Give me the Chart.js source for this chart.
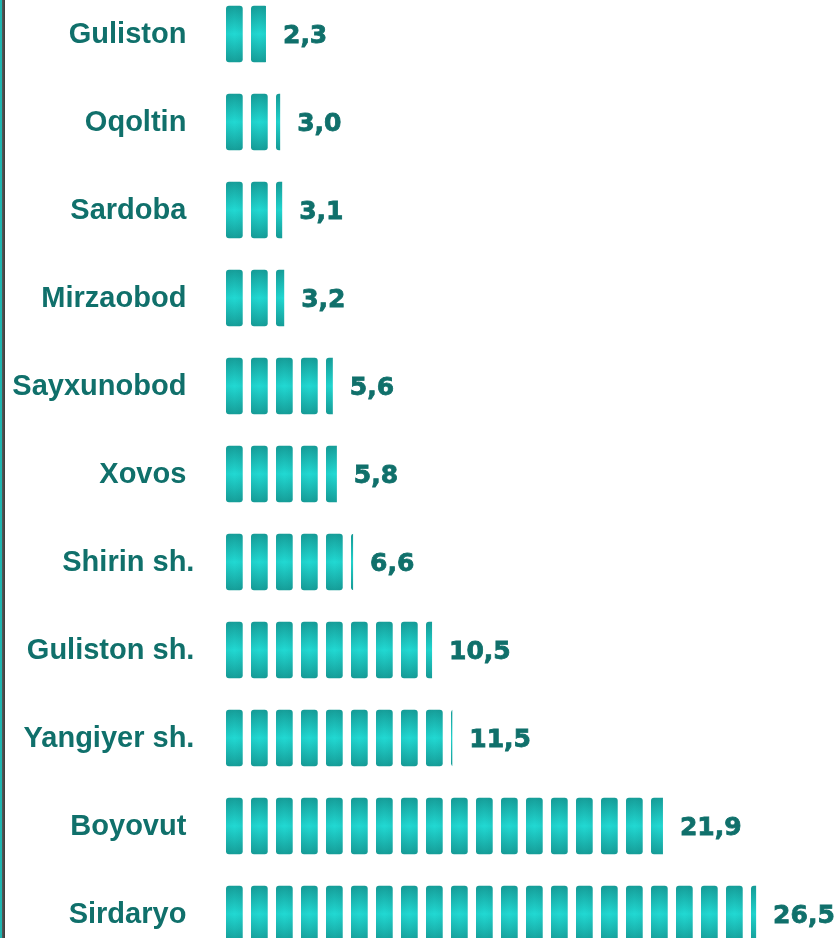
<!DOCTYPE html>
<html>
<head>
<meta charset="utf-8">
<script src="https://cdn.jsdelivr.net/npm/chart.js@4.4.1/dist/chart.umd.min.js"></script>
<style>
    html, body { margin: 0; padding: 0; background: #fff; overflow: hidden; }
    body { width: 837px; height: 938px; position: relative; }
    #wrap { position: absolute; left: 0; top: -10px; width: 837px; height: 968px; }
    #edge { position: absolute; left: 0; top: 0; width: 5px; height: 938px;
        background: linear-gradient(to right, #1fb5b0 0, #1fb5b0 2px, #5a5a5a 2px, #3a3a3a 5px); }
</style>
</head>
<body>
<div id="wrap"><canvas id="chart"></canvas></div>
<div id="edge"></div>
<script>
// categories (trailing spaces kept as in the source labels)
const districts = ['Guliston ', 'Oqoltin ', 'Sardoba ', 'Mirzaobod ', 'Sayxunobod ', 'Xovos ',
    'Shirin sh.', 'Guliston sh.', 'Yangiyer sh.', 'Boyovut ', 'Sirdaryo '];
const shares = [2.3, 3.0, 3.1, 3.2, 5.6, 5.8, 6.6, 10.5, 11.5, 21.9, 26.5];

const textColor = '#10706b';

// pictogram bars: each bar is filled with rounded "tablets" clipped to the bar length
const tabletPlugin = {
    id: 'tablets',
    afterDatasetsDraw(chart) {
        const ctx = chart.ctx;
        const meta = chart.getDatasetMeta(0);
        meta.data.forEach((bar, i) => {
            const left = bar.base, right = bar.x;
            const top = bar.y - bar.height / 2, h = bar.height;
            const grad = ctx.createLinearGradient(0, top, 0, top + h);
            grad.addColorStop(0, '#169e99');
            grad.addColorStop(0.5, '#21d9d3');
            grad.addColorStop(1, '#169e99');
            ctx.save();
            ctx.beginPath();
            ctx.rect(left, top - 1, right - left, h + 2);
            ctx.clip();
            for (let sx = left + 6.6; sx < right; sx += 25) {
                ctx.beginPath();
                ctx.roundRect(sx, top, 16.7, h, 3);
                ctx.fillStyle = grad;
                ctx.fill();
                // faint shading towards the side edges of each tablet
                const side = ctx.createLinearGradient(sx, 0, sx + 16.7, 0);
                side.addColorStop(0, 'rgba(10,90,88,0.08)');
                side.addColorStop(0.5, 'rgba(10,90,88,0)');
                side.addColorStop(1, 'rgba(10,90,88,0.08)');
                ctx.fillStyle = side;
                ctx.fill();
            }
            ctx.restore();

            ctx.save();
            ctx.font = 'bold 25px "DejaVu Sans"';
            ctx.fillStyle = textColor;
            ctx.strokeStyle = textColor;
            ctx.lineWidth = 0.8;
            ctx.textAlign = 'left';
            ctx.textBaseline = 'middle';
            const txt = shares[i].toFixed(1).replace('.', ',');
            ctx.fillText(txt, right + 17, bar.y + 2);
            ctx.strokeText(txt, right + 17, bar.y + 2);
            ctx.restore();
        });
    }
};

new Chart(document.getElementById('chart'), {
    type: 'bar',
    data: {
        labels: districts,
        datasets: [{
            data: shares,
            backgroundColor: 'rgba(0,0,0,0)',
            borderWidth: 0,
            barPercentage: 0.642,
            categoryPercentage: 1
        }]
    },
    options: {
        indexAxis: 'y',
        responsive: true,
        maintainAspectRatio: false,
        animation: false,
        layout: { padding: { left: 0, right: 10, top: 0, bottom: 0 } },
        plugins: { legend: { display: false }, tooltip: { enabled: false } },
        scales: {
            x: { display: false, min: 0, max: 30 },
            y: {
                grid: { display: false, drawTicks: false },
                border: { display: false },
                afterFit(scale) {
                    scale.width = 219.4;
                    scale.paddingTop = 0;
                    scale.paddingBottom = 0;
                },
                ticks: {
                    padding: 25,
                    labelOffset: 1,
                    color: textColor,
                    font: { family: '"Liberation Sans", Arial', size: 29, weight: 'bold' }
                }
            }
        }
    },
    plugins: [tabletPlugin]
});
</script>
</body>
</html>
